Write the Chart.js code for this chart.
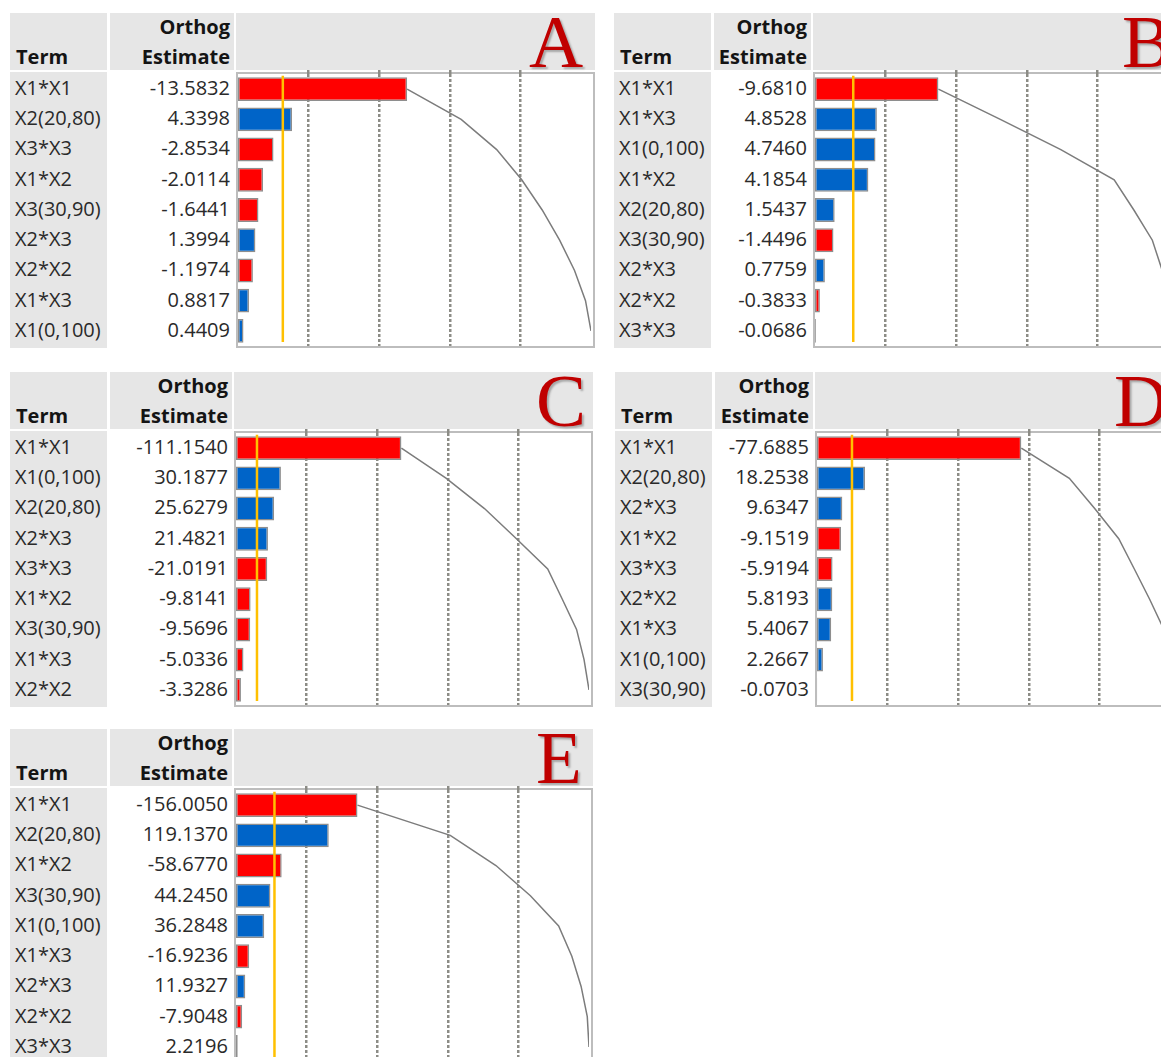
<!DOCTYPE html>
<html>
<head>
<meta charset="utf-8">
<title>Pareto plots of orthogonal estimates</title>
<script src="https://cdn.jsdelivr.net/npm/chart.js@4.4.1/dist/chart.umd.min.js"></script>
<style>
  html, body { margin: 0; padding: 0; background: #fff; }
  body { width: 1161px; height: 1057px; overflow: hidden; position: relative;
         font-family: "Open Sans", "Noto Sans", sans-serif; }
  .panel { position: absolute; width: 600px; height: 350px; }
  .hdr { position: absolute; top: 0; height: 57px; background: #e6e6e6; }
  .termcol { position: absolute; left: 0; width: 97px; background: #e6e6e6; }
  .cell { position: absolute; font-size: 20px; color: #2a2a2a; white-space: nowrap; }
  .hd { position: absolute; font-size: 20px; font-weight: 700; line-height: 30px; color: #141414; white-space: nowrap; }
  .box { position: absolute; border: 2px solid #bdbdbd; background: #fff; box-sizing: border-box; }
  .letter { position: absolute; font-family: "Liberation Serif", "DejaVu Serif", serif; font-size: 75px;
            line-height: 75px; color: #c00000; text-shadow: 2px 2px 2px rgba(0,0,0,0.28); }
  canvas { position: absolute; }
</style>
</head>
<body>
<script>
// ---- data: terms, orthogonal estimates and significance threshold for each response ----
const panelLetters = ['A', 'B', 'C', 'D', 'E'];

const termsA = ['X1*X1', 'X2(20,80)', 'X3*X3', 'X1*X2', 'X3(30,90)', 'X2*X3', 'X2*X2', 'X1*X3', 'X1(0,100)'];
const estimatesA = [-13.5832, 4.3398, -2.8534, -2.0114, -1.6441, 1.3994, -1.1974, 0.8817, 0.4409];
const thresholdA = 3.6;

const termsB = ['X1*X1', 'X1*X3', 'X1(0,100)', 'X1*X2', 'X2(20,80)', 'X3(30,90)', 'X2*X3', 'X2*X2', 'X3*X3'];
const estimatesB = [-9.6810, 4.8528, 4.7460, 4.1854, 1.5437, -1.4496, 0.7759, -0.3833, -0.0686];
const thresholdB = 3.0;

const termsC = ['X1*X1', 'X1(0,100)', 'X2(20,80)', 'X2*X3', 'X3*X3', 'X1*X2', 'X3(30,90)', 'X1*X3', 'X2*X2'];
const estimatesC = [-111.1540, 30.1877, 25.6279, 21.4821, -21.0191, -9.8141, -9.5696, -5.0336, -3.3286];
const thresholdC = 14.1;

const termsD = ['X1*X1', 'X2(20,80)', 'X2*X3', 'X1*X2', 'X3*X3', 'X2*X2', 'X1*X3', 'X1(0,100)', 'X3(30,90)'];
const estimatesD = [-77.6885, 18.2538, 9.6347, -9.1519, -5.9194, 5.8193, 5.4067, 2.2667, -0.0703];
const thresholdD = 13.3;

const termsE = ['X1*X1', 'X2(20,80)', 'X1*X2', 'X3(30,90)', 'X1(0,100)', 'X1*X3', 'X2*X3', 'X2*X2', 'X3*X3'];
const estimatesE = [-156.0050, 119.1370, -58.6770, 44.2450, 36.2848, -16.9236, 11.9327, -7.9048, 2.2196];
const thresholdE = 49.4;

const gridFractions = [0.2, 0.4, 0.6, 0.8];

// ---- page layout (pixels) ----
const layout = [
  { left: 10,  top: 13,  split: 226, letterX: 293 },
  { left: 614, top: 13,  split: 199, letterX: 309 },
  { left: 10,  top: 372, split: 224, letterX: 302 },
  { left: 615, top: 372, split: 200, letterX: 299 },
  { left: 10,  top: 729, split: 224, letterX: 302 }
];
const HEADER_H = 57, BOX_TOP = 59, BOX_W = 359, BOX_H = 276, BORDER = 2, TICK = 4;
const ROWS = 9, ROW_H = (BOX_H - 2 * BORDER) / ROWS;

const NEG_COLOR = '#ff0000', POS_COLOR = '#0064c8';

const panels = [
  { terms: termsA, est: estimatesA, thr: thresholdA },
  { terms: termsB, est: estimatesB, thr: thresholdB },
  { terms: termsC, est: estimatesC, thr: thresholdC },
  { terms: termsD, est: estimatesD, thr: thresholdD },
  { terms: termsE, est: estimatesE, thr: thresholdE }
];

function el(tag, cls, parent, css, text) {
  const e = document.createElement(tag);
  if (cls) e.className = cls;
  Object.assign(e.style, css || {});
  if (text !== undefined) e.textContent = text;
  parent.appendChild(e);
  return e;
}

panels.forEach((p, k) => {
  const L = layout[k];
  const panel = el('div', 'panel', document.body, { left: L.left + 'px', top: L.top + 'px' });

  // header cells
  el('div', 'hdr', panel, { left: '0px', width: '97px' });
  el('div', 'hdr', panel, { left: '100px', width: (L.split - 102) + 'px' });
  el('div', 'hdr', panel, { left: L.split + 'px', width: BOX_W + 'px' });
  el('div', 'hd', panel, { left: '6px', top: '29px' }, 'Term');
  const estRight = 600 - (L.split - 6);
  el('div', 'hd', panel, { right: estRight + 'px', top: '-1px' }, 'Orthog');
  el('div', 'hd', panel, { right: estRight + 'px', top: '29px' }, 'Estimate');
  el('div', 'letter', panel, { left: (L.split + L.letterX) + 'px', top: '-9px' }, panelLetters[k]);

  // term column and estimate column
  el('div', 'termcol', panel, { top: BOX_TOP + 'px', height: BOX_H + 'px' });
  p.terms.forEach((t, i) => {
    const top = BOX_TOP + BORDER + i * ROW_H - 1;
    el('div', 'cell', panel, { left: '5px', top: top + 'px', height: ROW_H + 'px', lineHeight: ROW_H + 'px' }, t);
    el('div', 'cell', panel, { right: estRight + 'px', top: top + 'px', height: ROW_H + 'px', lineHeight: ROW_H + 'px' },
       p.est[i].toFixed(4));
  });

  // plot frame
  el('div', 'box', panel, { left: L.split + 'px', top: BOX_TOP + 'px', width: BOX_W + 'px', height: BOX_H + 'px' });

  const cw = BOX_W - 2 * BORDER, ch = BOX_H - 2 * BORDER + TICK;
  const cv = el('canvas', null, panel, { left: (L.split + BORDER) + 'px', top: (BOX_TOP + BORDER - TICK) + 'px' });
  cv.width = cw; cv.height = ch;
  cv.style.width = cw + 'px'; cv.style.height = ch + 'px';

  const absVals = p.est.map(Math.abs);
  const total = absVals.reduce((a, b) => a + b, 0);
  const cumulative = [];
  absVals.reduce((acc, v) => { const s = acc + v; cumulative.push(s); return s; }, 0);
  const colors = p.est.map(v => v < 0 ? NEG_COLOR : POS_COLOR);

  new Chart(cv, {
    type: 'bar',
    data: {
      labels: p.terms,
      datasets: [
        {
          type: 'bar', data: absVals, backgroundColor: colors,
          borderColor: '#8e8e8e', borderWidth: 1.5, borderSkipped: false,
          grouped: false, barPercentage: 0.79, categoryPercentage: 1.0, order: 3
        },
        {
          type: 'line', data: cumulative, indexAxis: 'y',
          borderColor: '#7c7c7c', borderWidth: 1.5, pointRadius: 0, fill: false, tension: 0, order: 2
        },
        {
          type: 'line', data: [{ x: p.thr, y: 0.006 }, { x: p.thr, y: 0.985 }],
          xAxisID: 'x', yAxisID: 'yl', indexAxis: 'y',
          borderColor: '#ffc000', borderWidth: 2.5, pointRadius: 0, fill: false, order: 1
        }
      ]
    },
    options: {
      indexAxis: 'y',
      responsive: false,
      animation: false,
      layout: { padding: { right: 2, left: 0, top: 0, bottom: 0 } },
      plugins: { legend: { display: false }, tooltip: { enabled: false } },
      scales: {
        x: {
          type: 'linear', position: 'top', min: 0, max: total, offset: false,
          afterBuildTicks: s => { s.ticks = gridFractions.map(f => ({ value: f * total })); },
          ticks: { display: false },
          grid: { color: '#8c8c86', lineWidth: 2.5, drawTicks: true, tickLength: TICK, tickColor: '#8c8c86', tickWidth: 2.5, offset: false },
          border: { display: false, dash: [3, 2] }
        },
        y: { type: 'category', display: false, offset: true },
        yl: { type: 'linear', display: false, min: 0, max: 1, reverse: true, offset: false, grid: { offset: false } }
      }
    }
  });
});
</script>
</body>
</html>
